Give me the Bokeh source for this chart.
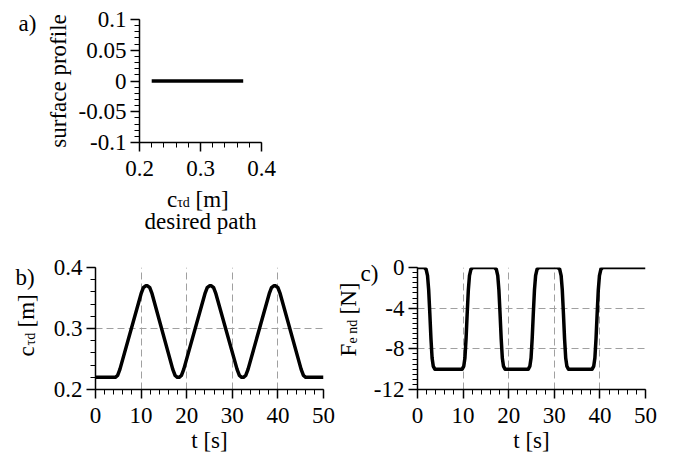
from math import pi
from bokeh.plotting import figure
from bokeh.models import Range1d, FixedTicker
from bokeh.core.properties import value
from bokeh.layouts import column, row
from bokeh.embed import file_html
from bokeh.resources import INLINE

FONT = "Liberation Serif"

# ---------------- data ----------------
# a) surface profile along desired path
a_x = [0.22, 0.37]
a_y = [0.0, 0.0]
a_xticks = [0.2, 0.3, 0.4]
a_xtick_labels = ["0.2", "0.3", "0.4"]
a_yticks = [-0.1, -0.05, 0.0, 0.05, 0.1]
a_ytick_labels = ["-0.1", "-0.05", "0", "0.05", "0.1"]

# b) desired path c_td [m] vs time
b_t = [0, 4.35, 4.85, 5.35,
       10.0, 10.5, 11.0, 11.4, 11.9, 12.4,
       16.95, 17.45, 17.95, 18.35, 18.85, 19.35,
       24.0, 24.5, 25.0, 25.4, 25.9, 26.4,
       31.05, 31.55, 32.05, 32.45, 32.95, 33.45,
       38.1, 38.6, 39.1, 39.5, 40.0, 40.5,
       45.1, 45.6, 46.1, 50]
b_c = [0.22, 0.22, 0.223, 0.233,
       0.357, 0.367, 0.37, 0.37, 0.367, 0.357,
       0.233, 0.223, 0.22, 0.22, 0.223, 0.233,
       0.357, 0.367, 0.37, 0.37, 0.367, 0.357,
       0.233, 0.223, 0.22, 0.22, 0.223, 0.233,
       0.357, 0.367, 0.37, 0.37, 0.367, 0.357,
       0.233, 0.223, 0.22, 0.22]

# c) end force F_end [N] vs time
c_t = [0, 1.5, 1.9, 2.2, 2.45, 2.7, 2.95, 3.2, 3.45, 3.8,
       9.8, 10.15, 10.4, 10.65, 10.9, 11.15, 11.4, 11.7, 12.1,
       16.9, 17.3, 17.6, 17.85, 18.1, 18.35, 18.6, 18.85, 19.2,
       24.3, 24.65, 24.9, 25.15, 25.4, 25.65, 25.9, 26.2, 26.6,
       30.8, 31.2, 31.5, 31.75, 32.0, 32.25, 32.5, 32.75, 33.1,
       38.3, 38.65, 38.9, 39.15, 39.4, 39.65, 39.9, 40.2, 40.6,
       50]
c_f = [0, 0, -0.2, -0.8, -2.2, -4.5, -7.0, -8.9, -9.7, -10,
       -10, -9.7, -8.9, -7.0, -4.5, -2.2, -0.8, -0.2, 0,
       0, -0.2, -0.8, -2.2, -4.5, -7.0, -8.9, -9.7, -10,
       -10, -9.7, -8.9, -7.0, -4.5, -2.2, -0.8, -0.2, 0,
       0, -0.2, -0.8, -2.2, -4.5, -7.0, -8.9, -9.7, -10,
       -10, -9.7, -8.9, -7.0, -4.5, -2.2, -0.8, -0.2, 0,
       0]

t_ticks = [0, 10, 20, 30, 40, 50]
t_tick_labels = ["0", "10", "20", "30", "40", "50"]
b_yticks = [0.2, 0.3, 0.4]
b_ytick_labels = ["0.2", "0.3", "0.4"]
c_yticks = [-12, -8, -4, 0]
c_ytick_labels = ["-12", "-8", "-4", "0"]

FS = 23      # main text size (px)
FSS = 14     # subscript size (px)


def minor(lo, step, n):
    return [round(lo + step * i, 6) for i in range(n + 1)]


def style(p, grid):
    p.outline_line_color = None
    p.background_fill_color = "white"
    p.border_fill_color = "white"
    for ax in p.axis:
        ax.axis_line_width = 1.5
        ax.axis_line_color = "black"
        ax.major_tick_line_color = "black"
        ax.major_tick_line_width = 1.5
        ax.minor_tick_line_color = "black"
        ax.minor_tick_line_width = 1
        ax.major_tick_in = 0
        ax.major_tick_out = 9
        ax.minor_tick_in = 0
        ax.minor_tick_out = 5
        ax.major_label_text_font = FONT
        ax.major_label_text_font_size = f"{FS}px"
        ax.major_label_text_color = "black"
        ax.major_label_standoff = 4
    p.xaxis.major_label_standoff = 9
    if grid:
        p.grid.grid_line_color = "#a0a0a0"
        p.grid.grid_line_dash = "7 4"
        p.grid.grid_line_width = 1
    else:
        p.grid.visible = False


def txt(p, x, y, dx, dy_up, s, size=FS, angle=0.0, align="left"):
    # text anchored at a data point, shifted by screen pixels (dy_up > 0 moves up)
    p.text(x=[x], y=[y], text=[s], x_offset=dx, y_offset=-dy_up,
           text_font=value(FONT), text_font_size=value(f"{size}px"),
           text_color="black", angle=angle, text_align=align,
           text_baseline="alphabetic", level="overlay")


def ticks(axis, vals, labels, minors):
    axis.ticker = FixedTicker(ticks=vals, minor_ticks=minors)
    axis.major_label_overrides = {v: l for v, l in zip(vals, labels)}


UP = pi / 2

# ---------------- panel a ----------------
pa = figure(width=281, height=250, output_backend="svg", toolbar_location=None,
            x_range=Range1d(0.2, 0.4), y_range=Range1d(-0.1, 0.1),
            min_border_left=139, min_border_right=20, min_border_top=19, min_border_bottom=108)
pa.line(a_x, a_y, line_color="black", line_width=3.5)
style(pa, grid=False)
ticks(pa.xaxis[0], a_xticks, a_xtick_labels, minor(0.2, 0.02, 10))
ticks(pa.yaxis[0], a_yticks, a_ytick_labels, minor(-0.1, 0.01, 20))
txt(pa, 0.2, 0.1, -121, -4, "a)")
txt(pa, 0.2, 0.0, -81, 0, "surface profile", angle=UP, align="center")
txt(pa, 0.2, -0.1, 27.5, -57, "c")
txt(pa, 0.2, -0.1, 37.7, -60, "τd", size=FSS)
txt(pa, 0.2, -0.1, 56, -57, "[m]")
txt(pa, 0.2, -0.1, 61, -79, "desired path", align="center")

# ---------------- panel b ----------------
pb = figure(width=335, height=205, output_backend="svg", toolbar_location=None,
            x_range=Range1d(0, 50), y_range=Range1d(0.2, 0.4),
            min_border_left=95, min_border_right=12, min_border_top=17, min_border_bottom=66)
style(pb, grid=True)
pb.line(b_t, b_c, line_color="black", line_width=3.5, line_join="round")
ticks(pb.xaxis[0], t_ticks, t_tick_labels, minor(0, 2, 25))
ticks(pb.yaxis[0], b_yticks, b_ytick_labels, minor(0.2, 0.02, 10))
txt(pb, 0, 0.4, -80, -10, "b)")
txt(pb, 0, 0.2, -69, 33, "c", angle=UP)
txt(pb, 0, 0.2, -65.5, 44, "τd", size=FSS, angle=UP)
txt(pb, 0, 0.2, -69, 62, "[m]", angle=UP)
txt(pb, 25, 0.2, 0, -51, "t [s]", align="center")

# ---------------- panel c ----------------
pc = figure(width=330, height=205, output_backend="svg", toolbar_location=None,
            x_range=Range1d(0, 50), y_range=Range1d(-12, 0),
            min_border_left=82, min_border_right=20, min_border_top=17, min_border_bottom=66)
style(pc, grid=True)
pc.line(c_t, c_f, line_color="black", line_width=3.5, line_join="round")
ticks(pc.xaxis[0], t_ticks, t_tick_labels, minor(0, 2, 25))
ticks(pc.yaxis[0], c_yticks, c_ytick_labels, minor(-12, 0.5, 24))
txt(pc, 0, 0, -57, -6, "c)")
txt(pc, 0, -12, -69, 33, "F", angle=UP)
txt(pc, 0, -12, -65, 46, "e nd", size=FSS, angle=UP)
txt(pc, 0, -12, -69, 75, "[N]", angle=UP)
txt(pc, 25, -12, 0, -51, "t [s]", align="center")

layout = column(row(pa), row(pb, pc))
open("out.html", "w").write(file_html(layout, INLINE))
